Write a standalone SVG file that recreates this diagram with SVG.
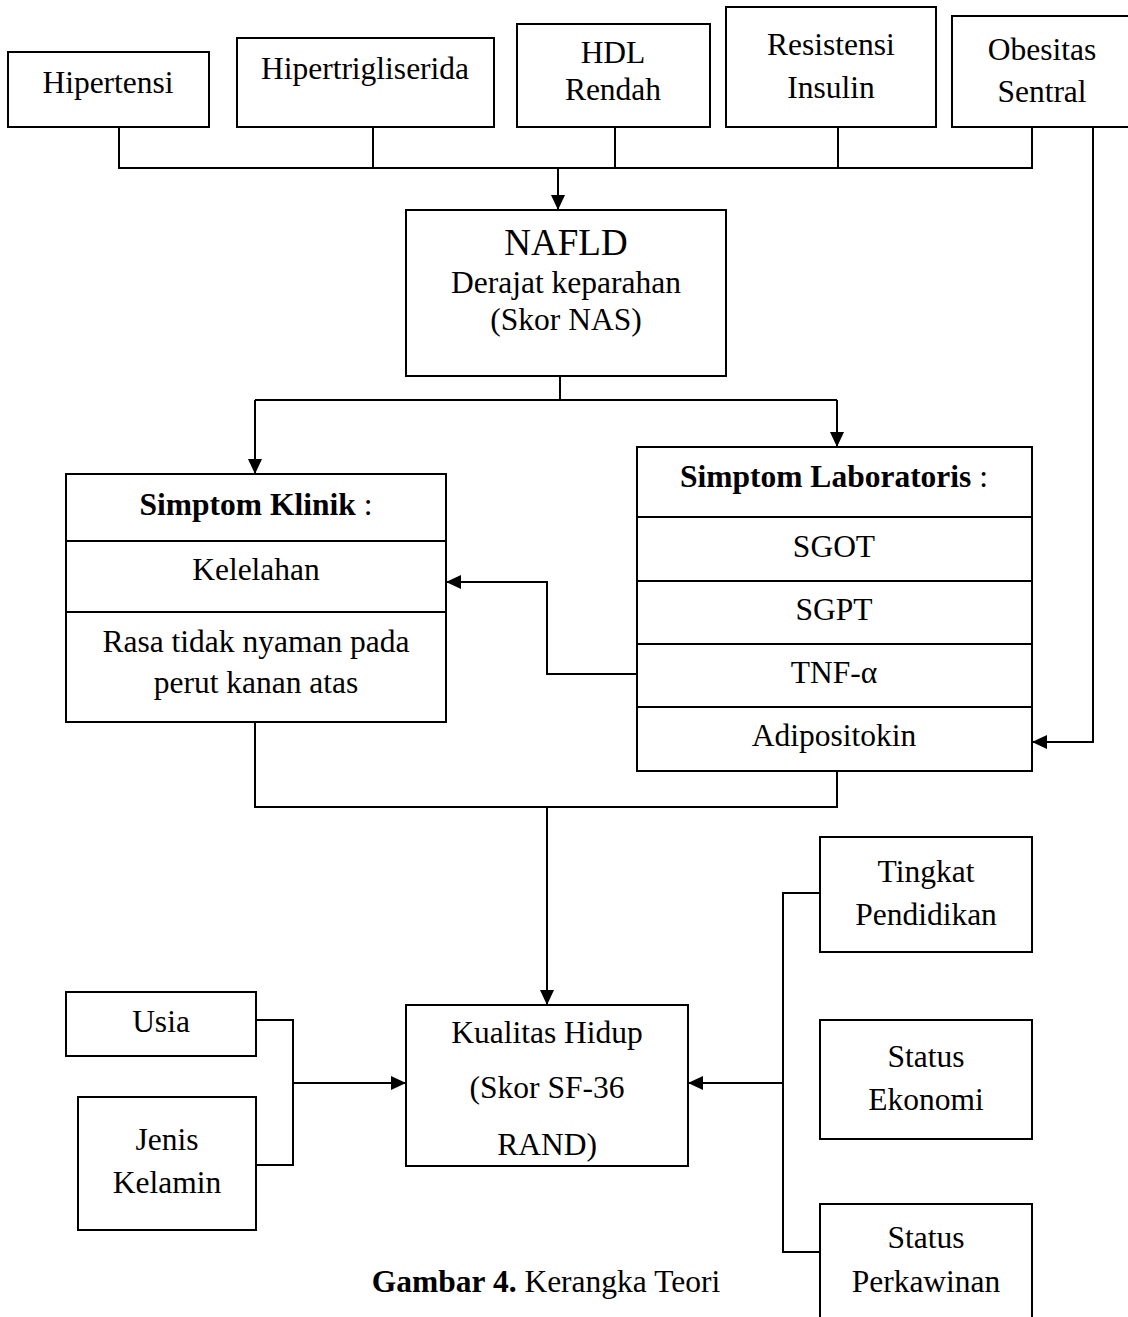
<svg xmlns="http://www.w3.org/2000/svg" width="1128" height="1317" viewBox="0 0 1128 1317">
<style>
.box{fill:#fff;stroke:#000;stroke-width:2}
.t{font-family:"Liberation Serif","Times New Roman",serif;font-size:31.5px;fill:#000;text-anchor:middle}
.b{font-weight:bold}
.big{font-size:37px}
.c{fill:none;stroke:#000;stroke-width:2}
.a{fill:none;stroke:#000;stroke-width:2;marker-end:url(#ah)}
</style>
<defs>
<marker id="ah" markerUnits="userSpaceOnUse" markerWidth="15" markerHeight="14" refX="15" refY="7" orient="auto">
<path d="M0,0 L15,7 L0,14 z" fill="#000"/>
</marker>
</defs>
<rect width="1128" height="1317" fill="#fff"/>
<g id="connectors">
<path class="c" d="M119,127 V168 H1032 V127"/>
<path class="c" d="M373,127 V168"/>
<path class="c" d="M615,127 V168"/>
<path class="c" d="M838,127 V168"/>
<path class="a" d="M558,168 V210"/>
<path class="c" d="M560,376 V400"/>
<path class="c" d="M255,400 H837"/>
<path class="a" d="M255,400 V474"/>
<path class="a" d="M837,400 V447"/>
<path class="a" d="M1093,127 V742 H1032"/>
<path class="a" d="M637,674 H547 V582 H446"/>
<path class="c" d="M255,722 V807 H837 V771"/>
<path class="a" d="M547,807 V1005"/>
<path class="c" d="M256,1020 H293 V1165 H256"/>
<path class="a" d="M293,1083 H406"/>
<path class="c" d="M820,893 H783 V1252 H820"/>
<path class="a" d="M783,1083 H688"/>
</g>
<g id="hipertensi">
<rect class="box" x="8" y="52" width="201" height="75"/>
<text class="t" x="108" y="93">Hipertensi</text>
</g>
<g id="hipertrigliserida">
<rect class="box" x="237" y="38" width="257" height="89"/>
<text class="t" x="365" y="79">Hipertrigliserida</text>
</g>
<g id="hdl">
<rect class="box" x="517" y="24" width="193" height="103"/>
<text class="t" x="613" y="63">HDL</text>
<text class="t" x="613" y="100">Rendah</text>
</g>
<g id="resistensi">
<rect class="box" x="726" y="7" width="210" height="120"/>
<text class="t" x="831" y="55">Resistensi</text>
<text class="t" x="831" y="98">Insulin</text>
</g>
<g id="obesitas">
<rect class="box" x="952" y="16" width="186" height="111"/>
<text class="t" x="1042" y="60">Obesitas</text>
<text class="t" x="1042" y="102">Sentral</text>
</g>
<g id="nafld">
<rect class="box" x="406" y="210" width="320" height="166"/>
<text class="t big" x="566" y="255">NAFLD</text>
<text class="t" x="566" y="293">Derajat keparahan</text>
<text class="t" x="566" y="330">(Skor NAS)</text>
</g>
<g id="simptom-klinik">
<rect class="box" x="66" y="474" width="380" height="248"/>
<path class="c" d="M66,541 H446 M66,612 H446"/>
<text class="t" x="256" y="515"><tspan class="b">Simptom Klinik</tspan> :</text>
<text class="t" x="256" y="580">Kelelahan</text>
<text class="t" x="256" y="652">Rasa tidak nyaman pada</text>
<text class="t" x="256" y="693">perut kanan atas</text>
</g>
<g id="simptom-lab">
<rect class="box" x="637" y="447" width="395" height="324"/>
<path class="c" d="M637,517 H1032 M637,581 H1032 M637,644 H1032 M637,707 H1032"/>
<text class="t" x="834" y="487"><tspan class="b">Simptom Laboratoris</tspan> :</text>
<text class="t" x="834" y="557">SGOT</text>
<text class="t" x="834" y="620">SGPT</text>
<text class="t" x="834" y="683">TNF-α</text>
<text class="t" x="834" y="746">Adipositokin</text>
</g>
<g id="kualitas-hidup">
<rect class="box" x="406" y="1005" width="282" height="161"/>
<text class="t" x="547" y="1043">Kualitas Hidup</text>
<text class="t" x="547" y="1098">(Skor SF-36</text>
<text class="t" x="547" y="1155">RAND)</text>
</g>
<g id="usia">
<rect class="box" x="66" y="992" width="190" height="64"/>
<text class="t" x="161" y="1032">Usia</text>
</g>
<g id="jenis-kelamin">
<rect class="box" x="78" y="1097" width="178" height="133"/>
<text class="t" x="167" y="1150">Jenis</text>
<text class="t" x="167" y="1193">Kelamin</text>
</g>
<g id="tingkat-pendidikan">
<rect class="box" x="820" y="837" width="212" height="115"/>
<text class="t" x="926" y="882">Tingkat</text>
<text class="t" x="926" y="925">Pendidikan</text>
</g>
<g id="status-ekonomi">
<rect class="box" x="820" y="1020" width="212" height="119"/>
<text class="t" x="926" y="1067">Status</text>
<text class="t" x="926" y="1110">Ekonomi</text>
</g>
<g id="status-perkawinan">
<rect class="box" x="820" y="1204" width="212" height="130"/>
<text class="t" x="926" y="1248">Status</text>
<text class="t" x="926" y="1292">Perkawinan</text>
</g>
<g id="caption">
<text class="t" x="546" y="1292"><tspan class="b">Gambar 4.</tspan> Kerangka Teori</text>
</g>
</svg>
